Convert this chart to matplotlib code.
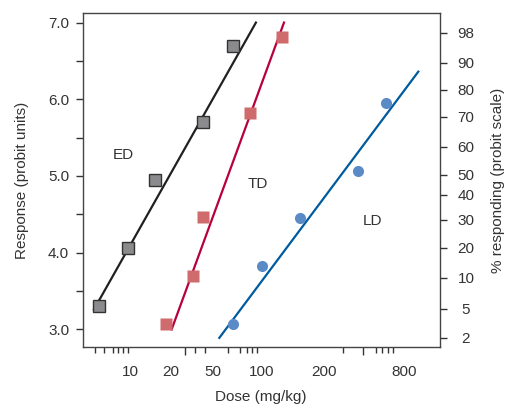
import numpy as np
import matplotlib
matplotlib.use("Agg")
import matplotlib.pyplot as plt

plt.rcParams['font.family'] = ['Liberation Sans', 'DejaVu Sans']
plt.rcParams['font.size'] = 11

# data (dose in mg/kg, response in probit units)
ed_dose = [5.9, 9.7, 15.3, 40.5, 66.1]
ed_resp = [3.30, 4.06, 4.95, 5.70, 6.70]
td_dose = [18.3, 32.5, 39.9, 84.8, 124.6]
td_resp = [3.07, 3.69, 4.47, 5.82, 6.81]
ld_dose = [66.6, 100, 152.9, 362.4, 582.6]
ld_resp = [3.07, 3.83, 4.45, 5.07, 5.95]

# fitted lines (end points)
ed_line_dose = [5.44, 91.8]
ed_line_resp = [3.26, 7.00]
td_line_dose = [20.3, 127.9]
td_line_resp = [3.00, 7.00]
ld_line_dose = [54.7, 1025]
ld_line_resp = [2.89, 6.36]

# axis labels
x_labels = [10, 20, 50, 100, 200, 800]
x_minor = [5.5, 6.5, 7.5, 8.2, 8.9, 9.7, 20, 27, 34, 42, 62, 73, 80.5, 86.4,
           92.8, 200, 279, 395, 492, 544, 603, 665]
x_long = [20, 200]
pct_labels = [2, 5, 10, 20, 30, 40, 50, 60, 70, 80, 90, 98]
pct_probit = [2.892, 3.270, 3.674, 4.065, 4.430, 4.757, 5.017, 5.382,
              5.773, 6.125, 6.477, 6.868]

# the dose axis of the original is drawn by hand, not a clean log axis
scale_dose = [1, 10, 20, 50, 100, 200, 800, 10000]
scale_pos = [-6.2, 130, 171, 213, 262, 324, 404, 549.8]
log_dose = np.log10(scale_dose)


def fwd(d):
    d = np.clip(np.asarray(d, dtype=float), 1e-6, None)
    return np.interp(np.log10(d), log_dose, scale_pos)


def inv(u):
    return 10 ** np.interp(np.asarray(u, dtype=float), scale_pos, log_dose)


fig = plt.figure(figsize=(5.1, 4.05), dpi=100)
ax = fig.add_axes([0.1627, 0.144, 0.6991, 0.823])
ax.set_xscale('function', functions=(fwd, inv))

ax.plot(ed_line_dose, ed_line_resp, color='#231f20', lw=1.6, zorder=2)
ax.plot(td_line_dose, td_line_resp, color='#b8003c', lw=1.6, zorder=2)
ax.plot(ld_line_dose, ld_line_resp, color='#005b9e', lw=1.6, zorder=2)

ax.plot(ed_dose, ed_resp, 's', ms=8, mfc='#8b8b8e', mec='#333333', mew=1.0,
        ls='none', zorder=3)
ax.plot(td_dose, td_resp, 's', ms=8.5, mfc='#cf6a6d', mec='none',
        ls='none', zorder=3)
ax.plot(ld_dose, ld_resp, 'o', ms=8, mfc='#5b8bc6', mec='none',
        ls='none', zorder=3)

ax.text(9.0, 5.28, 'ED', ha='center', va='center', color='#333333')
ax.text(94.9, 4.89, 'TD', ha='center', va='center', color='#333333')
ax.text(462, 4.41, 'LD', ha='center', va='center', color='#333333')

ax.set_xlim(4.52, 1480)
ax.set_ylim(2.775, 7.12)

ax.set_xticks(x_labels, labels=[str(v) for v in x_labels])
ax.set_xticks(x_minor, minor=True)
ax.tick_params(axis='x', which='major', length=0, pad=13, labelcolor='#333333')
ax.tick_params(axis='x', which='minor', length=4, width=1, color='#333333')
minor_ticks = ax.xaxis.get_minor_ticks(len(x_minor))
for v, t in zip(x_minor, minor_ticks):
    if v in x_long:
        t.tick1line.set_markersize(6)

ax.set_yticks([3.0, 4.0, 5.0, 6.0, 7.0], labels=['3.0', '4.0', '5.0', '6.0', '7.0'])
ax.set_yticks([3.5, 4.5, 5.5, 6.5], minor=True)
ax.tick_params(axis='y', which='both', length=5, width=1, pad=5,
               color='#333333', labelcolor='#333333')

for s in ax.spines.values():
    s.set_color('#444444')
    s.set_linewidth(1)

ax.set_xlabel('Dose (mg/kg)', color='#333333', labelpad=8)
ax.set_ylabel('Response (probit units)', color='#333333', labelpad=14)

ax2 = ax.twinx()
ax2.set_ylim(ax.get_ylim())
ax2.set_yticks(pct_probit, labels=[str(p) for p in pct_labels])
ax2.tick_params(axis='y', length=5, width=1, pad=14, color='#333333',
                labelcolor='#333333')
for lab in ax2.get_yticklabels():
    lab.set_horizontalalignment('center')
for s in ax2.spines.values():
    s.set_visible(False)
ax2.set_ylabel('% responding (probit scale)', color='#333333', labelpad=12)

fig.savefig('out.png', dpi=100)
